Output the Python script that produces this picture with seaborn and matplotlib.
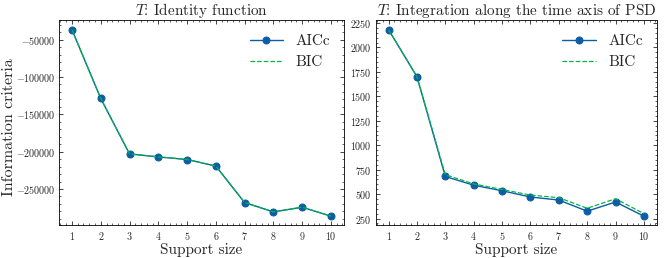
import numpy as np
import pandas as pd
import seaborn as sns
import matplotlib
matplotlib.use("Agg")
import matplotlib.pyplot as plt
from matplotlib.ticker import AutoMinorLocator

support = [1, 2, 3, 4, 5, 6, 7, 8, 9, 10]
aicc_identity = [-36700, -128700, -203000, -207000, -210500, -219300, -268200, -280700, -274400, -286400]
bic_identity = [-36600, -128600, -202900, -206900, -210400, -219200, -268100, -280600, -274300, -286300]
aicc_psd = [2182, 1701, 680, 591, 534, 470, 439, 325, 419, 274]
bic_psd = [2182, 1701, 698, 604, 547, 490, 463, 355, 452, 300]
titles = ["$T$: Identity function", "$T$: Integration along the time axis of PSD"]

sns.set_style("ticks")
plt.rcParams.update({
    "font.family": "serif",
    "font.serif": ["cmr10", "DejaVu Serif"],
    "mathtext.fontset": "cm",
    "axes.formatter.use_mathtext": True,
    "axes.unicode_minus": True,
    "xtick.direction": "in",
    "ytick.direction": "in",
    "xtick.top": True,
    "ytick.right": True,
    "xtick.minor.visible": True,
    "ytick.minor.visible": True,
    "xtick.major.size": 3,
    "ytick.major.size": 3,
    "xtick.minor.size": 1.5,
    "ytick.minor.size": 1.5,
    "xtick.major.width": 0.6,
    "ytick.major.width": 0.6,
    "xtick.minor.width": 0.5,
    "ytick.minor.width": 0.5,
    "axes.linewidth": 0.6,
    "axes.edgecolor": "black",
})

blue = "#0C5DA5"
green = "#00B945"

fig = plt.figure(figsize=(6.64, 2.58), dpi=100)
ax1 = fig.add_axes([0.0889, 0.126, 0.429, 0.795])
ax2 = fig.add_axes([0.566, 0.126, 0.423, 0.795])

for ax, a, b, t in [(ax1, aicc_identity, bic_identity, titles[0]),
                    (ax2, aicc_psd, bic_psd, titles[1])]:
    df = pd.DataFrame({"x": support, "aicc": a, "bic": b})
    sns.lineplot(data=df, x="x", y="aicc", ax=ax, color=blue, marker="o",
                 markersize=5, markeredgecolor=blue, linewidth=1.0, label="AICc")
    sns.lineplot(data=df, x="x", y="bic", ax=ax, color=green, linestyle="--",
                 linewidth=0.9, label="BIC")
    ax.set_xticks(support)
    ax.xaxis.set_minor_locator(AutoMinorLocator(5))
    ax.yaxis.set_minor_locator(AutoMinorLocator(5))
    ax.tick_params(axis="both", which="major", labelsize=7.2, pad=3)
    ax.set_title(t, fontsize=11, pad=3)
    ax.set_xlabel("Support size", fontsize=11, labelpad=1)
    ax.set_ylabel("")
    ax.legend(loc="upper right", frameon=False, fontsize=11, handlelength=2.2)

ax1.set_ylabel("Information criteria", fontsize=11.5)
ax1.yaxis.set_label_coords(-0.152, 0.48)
ax1.set_yticks([-50000, -100000, -150000, -200000, -250000])
ax2.set_yticks([250, 500, 750, 1000, 1250, 1500, 1750, 2000, 2250])

fig.savefig("out.png", dpi=100)
